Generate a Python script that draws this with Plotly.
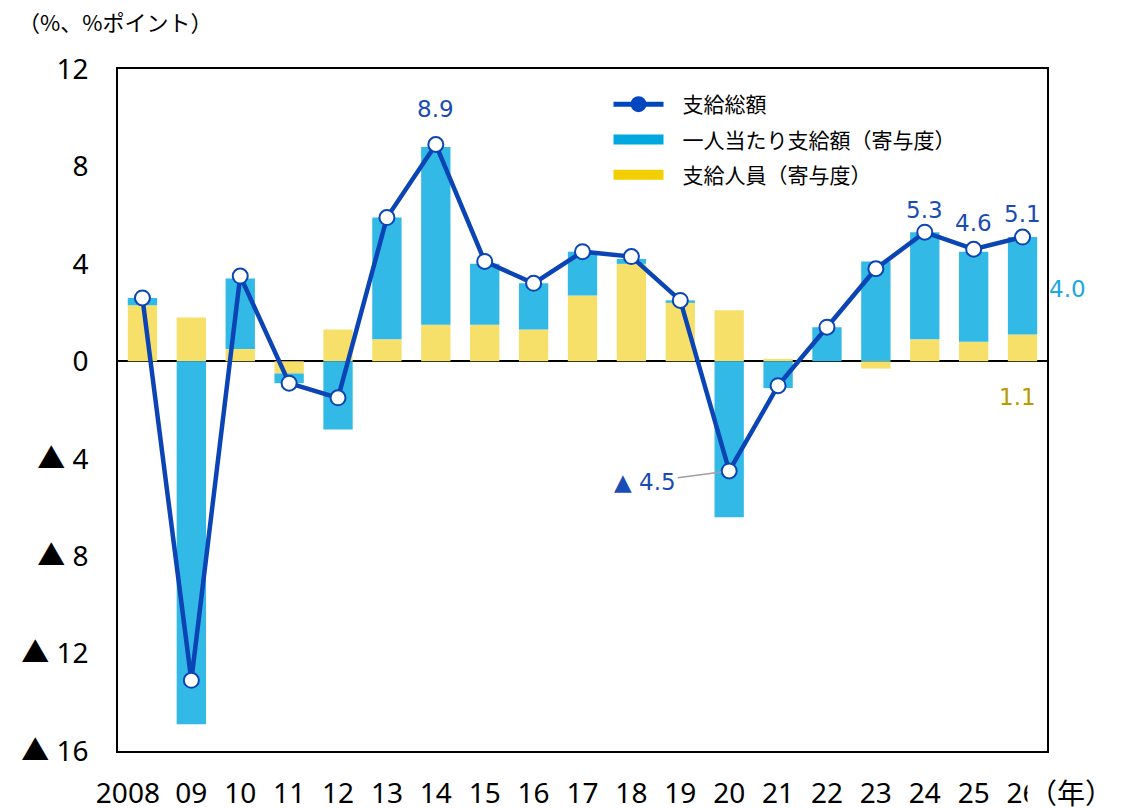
import plotly.graph_objects as go

# ---------------- data ----------------
years = ["2008", "09", "10", "11", "12", "13", "14", "15", "16", "17",
         "18", "19", "20", "21", "22", "23", "24", "25", "26"]
total_pay = [2.6, -13.1, 3.5, -0.9, -1.5, 5.9, 8.9, 4.1, 3.2, 4.5,
             4.3, 2.5, -4.5, -1.0, 1.4, 3.8, 5.3, 4.6, 5.1]
per_person = [0.3, -14.9, 2.9, -0.4, -2.8, 5.0, 7.3, 2.5, 1.9, 1.8,
              0.2, 0.1, -6.4, -1.1, 1.4, 4.1, 4.4, 3.7, 4.0]
employees = [2.3, 1.8, 0.5, -0.5, 1.3, 0.9, 1.5, 1.5, 1.3, 2.7,
             4.0, 2.4, 2.1, 0.1, 0.0, -0.3, 0.9, 0.8, 1.1]
y_tickvals = [12, 8, 4, 0, -4, -8, -12, -16]
y_ticktext = ["12", "8", "4", "0", "▲ 4", "▲ 8", "▲ 12", "▲ 16"]
labeled_years = ["14", "24", "25", "26"]
name_total = "支給総額"
name_person = "一人当たり支給額（寄与度）"
name_emp = "支給人員（寄与度）"

# ---------------- style ----------------
LINE_BLUE = "#0b44b5"
LEG_BLUE = "#0046be"
BAR_BLUE = "#33b9e6"
BAR_YEL = "#f7e06a"
SW_BLUE = "#00a8e0"
SW_YEL = "#f2cf00"
JP = "Noto Sans CJK JP"
NUM = "Noto Sans, Noto Sans CJK JP"
LBL = "DejaVu Sans"
PAD = "\u00a0\u00a0\u00a0"

xs = list(range(len(years)))
# first label is drawn slightly left of its slot, as in the reference
tick_text = [years[0] + "\u00a0" * 4] + years[1:]

fig = go.Figure()

fig.add_trace(go.Bar(x=xs, y=employees, marker=dict(color=BAR_YEL, line=dict(width=0)),
                     width=0.6, showlegend=False, name=name_emp))
fig.add_trace(go.Bar(x=xs, y=per_person, marker=dict(color=BAR_BLUE, line=dict(width=0)),
                     width=0.6, showlegend=False, name=name_person))
fig.add_trace(go.Scatter(x=xs, y=total_pay, mode="lines+markers",
                         line=dict(color=LINE_BLUE, width=4.5),
                         marker=dict(size=15, color="white", line=dict(color=LINE_BLUE, width=2)),
                         showlegend=False, name=name_total))

# legend proxies
fig.add_trace(go.Scatter(x=[None], y=[None], mode="lines+markers", name=PAD + name_total,
                         line=dict(color=LEG_BLUE, width=5),
                         marker=dict(size=16, color=LEG_BLUE), legendgroup="a"))
fig.add_trace(go.Scatter(x=[None], y=[None], mode="lines", name=PAD + name_person,
                         line=dict(color=SW_BLUE, width=11), legendgroup="b"))
fig.add_trace(go.Scatter(x=[None], y=[None], mode="lines", name=PAD + name_emp,
                         line=dict(color=SW_YEL, width=11), legendgroup="c"))

annotations = []
shifts = {"14": 36, "24": 22, "25": 26, "26": 23}
for yr in labeled_years:
    i = years.index(yr)
    annotations.append(dict(x=i, y=total_pay[i], text=f"{total_pay[i]:.1f}", showarrow=False,
                            yshift=shifts[yr], font=dict(family=LBL, size=23, color="#1a4cb5")))
last = len(years) - 1
annotations.append(dict(x=last, y=employees[last] + per_person[last] / 2,
                        text=f"{per_person[last]:.1f}", showarrow=False, xshift=45, yshift=-3,
                        font=dict(family=LBL, size=23, color="#1ba8df")))
annotations.append(dict(x=last, y=0, text=f"{employees[last]:.1f}", showarrow=False,
                        xshift=-5, yshift=-36, font=dict(family=LBL, size=23, color="#b89b00")))
i20 = years.index("20")
annotations.append(dict(x=i20, y=total_pay[i20], text=f"▲ {abs(total_pay[i20]):.1f}",
                        showarrow=True, arrowhead=0, arrowwidth=1.5, arrowcolor="#a0a0a0",
                        ax=-84, ay=11, standoff=8,
                        font=dict(family=LBL, size=23, color="#1a4cb5")))
annotations.append(dict(xref="paper", yref="paper", x=-0.11, y=1.07, xanchor="left",
                        yanchor="middle", text="（%、%ポイント）", showarrow=False,
                        font=dict(family=JP, size=22, color="black")))
annotations.append(dict(xref="paper", yref="paper", x=0.979, y=-0.06, xanchor="left",
                        yanchor="middle", text="（年）", showarrow=False, bgcolor="white",
                        font=dict(family=JP, size=28, color="black")))

fig.update_layout(
    width=1122, height=809,
    margin=dict(l=118, r=75, t=69, b=58),
    paper_bgcolor="white", plot_bgcolor="white",
    barmode="relative",
    showlegend=True,
    legend=dict(x=0.528, y=0.978, xanchor="left", yanchor="top",
                font=dict(family=JP, size=21, color="black"),
                itemwidth=50, tracegroupgap=5, bgcolor="rgba(0,0,0,0)",
                traceorder="grouped"),
    annotations=annotations,
    xaxis=dict(range=[-0.5, len(years) - 0.5], tickvals=xs, ticktext=tick_text, tickangle=0,
               showgrid=False, zeroline=False, automargin=False,
               showline=True, linecolor="black", linewidth=1.5, mirror=True,
               ticks="", tickfont=dict(family=NUM, size=28, color="black"),
               ticklabelstandoff=17),
    yaxis=dict(range=[-16, 12], tickvals=y_tickvals, ticktext=y_ticktext, showgrid=False,
               automargin=False,
               showline=True, linecolor="black", linewidth=1.5, mirror=True,
               zeroline=True, zerolinecolor="black", zerolinewidth=2,
               ticks="", tickfont=dict(family=NUM, size=28, color="black"),
               ticklabelstandoff=22),
)

# remove the default 8px page margin so the 1122x809 figure fills the window exactly
fig.write_html("out.html", config={"displayModeBar": False},
               post_script="document.body.style.margin='0px';document.body.style.overflow='hidden';")
